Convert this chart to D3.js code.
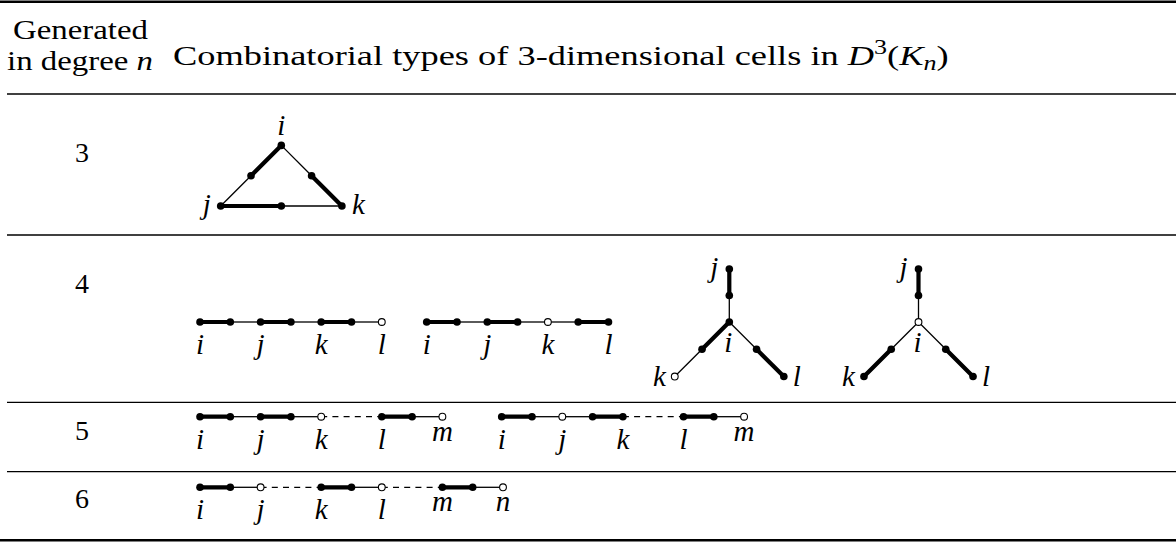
<!DOCTYPE html>
<html>
<head>
<meta charset="utf-8">
<script src="https://cdn.jsdelivr.net/npm/d3@7"></script>
<style>
  body { margin: 0; background: #fff; }
  svg { display: block; }
</style>
</head>
<body>
<svg id="chart"></svg>
<script>
// ---------- data ----------
var rowDegrees = ["3", "4", "5", "6"];
var headLeftLines = ["Generated", "in degree "];
var headRight = "Combinatorial types of 3-dimensional cells in ";

// path diagrams: node kind (1 filled, 0 open), edge kind, vertex names
var p4aNodes = [1, 1, 1, 1, 1, 1, 0];
var p4aEdges = ["thick", "thin", "thick", "thin", "thick", "thin"];
var p4aNames = ["i", "", "j", "", "k", "", "l"];

var p4bNodes = [1, 1, 1, 1, 0, 1, 1];
var p4bEdges = ["thick", "thin", "thick", "thin", "thin", "thick"];
var p4bNames = ["i", "", "j", "", "k", "", "l"];

var p5aNodes = [1, 1, 1, 1, 0, 1, 1, 0];
var p5aEdges = ["thick", "thin", "thick", "thin", "dash", "thick", "thin"];
var p5aNames = ["i", "", "j", "", "k", "l", "", "m"];

var p5bNodes = [1, 1, 0, 1, 1, 1, 1, 0];
var p5bEdges = ["thick", "thin", "thin", "thick", "dash", "thick", "thin"];
var p5bNames = ["i", "", "j", "", "k", "l", "", "m"];

var p6Nodes = [1, 1, 0, 1, 1, 0, 1, 1, 0];
var p6Edges = ["thick", "thin", "dash", "thick", "thin", "dash", "thick", "thin"];
var p6Names = ["i", "", "j", "k", "", "l", "m", "", "n"];

// triangle (cycle j -> k -> i -> j with subdivided edges), grid units
var triPoints = [[0, 0], [2, 0], [4, 0], [3, 1], [2, 2], [1, 1]];
var triEdges = ["thick", "thin", "thick", "thin", "thick", "thin"];
var triNames = ["j", "", "k", "", "i", ""];

// trees: three subdivided arms j, k, l from centre i
var treeNames = ["j", "k", "l"];
var treeTips = [[0, 1.75], [-1.8, -1.8], [1.8, -1.8]];
var tree1Center = 1, tree1Inner = ["thin", "thick", "thin"], tree1Outer = ["thick", "thin", "thick"], tree1Ends = [1, 0, 1];
var tree2Center = 0, tree2Inner = ["thin", "thin", "thin"], tree2Outer = ["thick", "thick", "thick"], tree2Ends = [1, 1, 1];

// ---------- layout ----------
var width = 1176, height = 543;
var UNIT = 30.3;
var ROMAN = "'Liberation Serif', 'Times New Roman', serif";

var svg = d3.select('#chart')
    .attr('width', width)
    .attr('height', height);

svg.append("rect").attr("width", width).attr("height", height).attr("fill", "white");

var edgeStyle = {
    thick: {w: 4.2, dash: null},
    thin: {w: 1.3, dash: null},
    dash: {w: 1.2, dash: "6,5.2"}
};

function makeScales(ox, oy) {
    return {
        x: d3.scaleLinear().domain([0, 1]).range([ox, ox + UNIT]),
        y: d3.scaleLinear().domain([0, 1]).range([oy, oy - UNIT])
    };
}

function drawEdges(g, segs) {
    g.append("g").selectAll("line")
        .data(segs)
        .enter()
        .append("line")
            .attr("x1", d => d.x1).attr("y1", d => d.y1)
            .attr("x2", d => d.x2).attr("y2", d => d.y2)
            .attr("stroke", "black")
            .attr("stroke-width", d => edgeStyle[d.kind].w)
            .attr("stroke-dasharray", d => edgeStyle[d.kind].dash)
            .attr("stroke-linecap", d => d.kind == "thick" ? "round" : "butt");
}

function drawNodes(g, pts) {
    g.append("g").selectAll("circle")
        .data(pts)
        .enter()
        .append("circle")
            .attr("cx", d => d.x)
            .attr("cy", d => d.y)
            .attr("r", d => d.filled ? 3.8 : 3.4)
            .attr("fill", d => d.filled ? "black" : "white")
            .attr("stroke", "black")
            .attr("stroke-width", d => d.filled ? 0 : 1.1);
}

function mathLabel(g, x, y, txt, anchor) {
    g.append("text")
        .attr("x", x).attr("y", y)
        .attr("text-anchor", anchor || "middle")
        .style("font-family", ROMAN)
        .style("font-style", "italic")
        .style("font-size", "29px")
        .text(txt);
}

// path diagram: positions follow edge lengths (dashed edge spans two units)
function drawPath(ox, oy, nodes, edges, names) {
    var s = makeScales(ox, oy);
    var pos = [0];
    edges.forEach(function(e, i) { pos.push(pos[i] + (e == "dash" ? 2 : 1)); });
    var g = svg.append("g");
    var segs = edges.map(function(e, i) {
        return {x1: s.x(pos[i]), y1: s.y(0), x2: s.x(pos[i + 1]), y2: s.y(0), kind: e};
    });
    drawEdges(g, segs);
    drawNodes(g, nodes.map((n, i) => ({x: s.x(pos[i]), y: s.y(0), filled: n})));
    names.forEach(function(nm, i) {
        if (!nm) return;
        var low = (nm == "m" || nm == "n");
        mathLabel(g, s.x(pos[i]), s.y(0) + (low ? 24 : 32), nm);
    });
}

function drawTriangle(ox, oy) {
    var s = makeScales(ox, oy);
    var g = svg.append("g");
    var segs = triEdges.map(function(e, i) {
        var a = triPoints[i], b = triPoints[(i + 1) % triPoints.length];
        return {x1: s.x(a[0]), y1: s.y(a[1]), x2: s.x(b[0]), y2: s.y(b[1]), kind: e};
    });
    drawEdges(g, segs);
    drawNodes(g, triPoints.map(p => ({x: s.x(p[0]), y: s.y(p[1]), filled: 1})));
    triNames.forEach(function(nm, i) {
        if (!nm) return;
        var p = triPoints[i];
        if (nm == "i") mathLabel(g, s.x(p[0]), s.y(p[1]) - 10, nm);
        else if (nm == "j") mathLabel(g, s.x(p[0]) - 10, s.y(p[1]) + 8, nm, "end");
        else mathLabel(g, s.x(p[0]) + 10, s.y(p[1]) + 8, nm, "start");
    });
}

function drawTree(ox, oy, center, inner, outer, ends) {
    var s = makeScales(ox, oy);
    var g = svg.append("g");
    var segs = [], pts = [];
    treeTips.forEach(function(t, i) {
        var mx = t[0] / 2, my = t[1] / 2;
        segs.push({x1: s.x(0), y1: s.y(0), x2: s.x(mx), y2: s.y(my), kind: inner[i]});
        segs.push({x1: s.x(mx), y1: s.y(my), x2: s.x(t[0]), y2: s.y(t[1]), kind: outer[i]});
        pts.push({x: s.x(mx), y: s.y(my), filled: 1});
        pts.push({x: s.x(t[0]), y: s.y(t[1]), filled: ends[i]});
    });
    pts.push({x: s.x(0), y: s.y(0), filled: center});
    drawEdges(g, segs);
    drawNodes(g, pts);
    mathLabel(g, s.x(0) - 1, s.y(0) + 30, "i");
    treeNames.forEach(function(nm, i) {
        var t = treeTips[i];
        if (nm == "j") mathLabel(g, s.x(t[0]) - 11, s.y(t[1]) + 8, nm, "end");
        else if (nm == "k") mathLabel(g, s.x(t[0]) - 9, s.y(t[1]) + 9, nm, "end");
        else mathLabel(g, s.x(t[0]) + 9, s.y(t[1]) + 9, nm, "start");
    });
}

// horizontal fit so that the serif text spans the measured width
function fitWidth(sel, x0, target) {
    var w = sel.node().getComputedTextLength();
    var k = target / w;
    sel.attr("transform", "translate(" + x0 + ",0) scale(" + k + ",1) translate(" + (-x0) + ",0)");
}

// ---------- table rules ----------
var rules = [
    {y: 1.8, x0: 0, w: 2.4},
    {y: 94, x0: 7, w: 1.3},
    {y: 235, x0: 7, w: 1.3},
    {y: 402.3, x0: 7, w: 1.3},
    {y: 471.7, x0: 7, w: 1.3},
    {y: 540.2, x0: 0, w: 2.6}
];
svg.append("g").selectAll("line")
    .data(rules)
    .enter()
    .append("line")
        .attr("x1", d => d.x0).attr("x2", width)
        .attr("y1", d => d.y).attr("y2", d => d.y)
        .attr("stroke", "black")
        .attr("stroke-width", d => d.w);

// ---------- header ----------
var h1 = svg.append("text")
    .attr("x", 80.5).attr("y", 39)
    .attr("text-anchor", "middle")
    .style("font-family", ROMAN).style("font-size", "28px")
    .text(headLeftLines[0]);
fitWidth(h1, 80.5, 135);

var h2 = svg.append("text")
    .attr("x", 80).attr("y", 70)
    .attr("text-anchor", "middle")
    .style("font-family", ROMAN).style("font-size", "28px");
h2.append("tspan").text(headLeftLines[1]);
h2.append("tspan").style("font-style", "italic").text("n");
fitWidth(h2, 80, 146);

var h3 = svg.append("text")
    .attr("x", 173).attr("y", 65)
    .style("font-family", ROMAN).style("font-size", "28px");
h3.append("tspan").text(headRight);
h3.append("tspan").style("font-style", "italic").text("D");
h3.append("tspan").attr("dy", -11).style("font-size", "20px").text("3");
h3.append("tspan").attr("dy", 11).text("(");
h3.append("tspan").style("font-style", "italic").text("K");
h3.append("tspan").attr("dy", 5).style("font-style", "italic").style("font-size", "20px").text("n");
h3.append("tspan").attr("dy", -5).text(")");
fitWidth(h3, 173, 776);

// ---------- row labels ----------
var rowBaselines = [162, 293, 440, 508];
svg.append("g").selectAll("text")
    .data(rowDegrees)
    .enter()
    .append("text")
        .attr("x", 82)
        .attr("y", (d, i) => rowBaselines[i])
        .attr("text-anchor", "middle")
        .style("font-family", ROMAN)
        .style("font-size", "28px")
        .text(d => d);

// ---------- diagrams ----------
drawTriangle(220.7, 206);

drawPath(200, 322, p4aNodes, p4aEdges, p4aNames);
drawPath(426.7, 322, p4bNodes, p4bEdges, p4bNames);
drawTree(729.3, 322, tree1Center, tree1Inner, tree1Outer, tree1Ends);
drawTree(918.5, 322, tree2Center, tree2Inner, tree2Outer, tree2Ends);

drawPath(200, 416.7, p5aNodes, p5aEdges, p5aNames);
drawPath(501.7, 416.7, p5bNodes, p5bEdges, p5bNames);

drawPath(200, 487.3, p6Nodes, p6Edges, p6Names);
</script>
</body>
</html>
